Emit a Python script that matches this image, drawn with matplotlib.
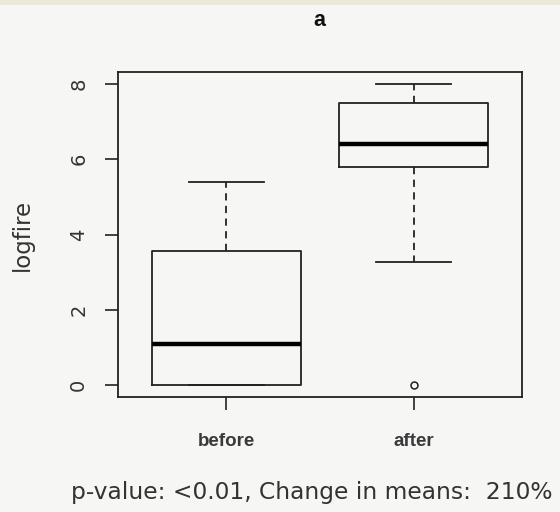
import matplotlib
matplotlib.use("Agg")
import matplotlib.pyplot as plt
from matplotlib.patches import Rectangle

categories = ["before", "after"]
q1 = [0.0, 5.8]
medians = [1.1, 6.4]
q3 = [3.55, 7.5]
whislo = [0.0, 3.28]
whishi = [5.4, 8.0]
fliers = [[], [0.0]]
yticks = [0, 2, 4, 6, 8]

plt.rcParams['font.family'] = ['DejaVu Sans']
W, H = 560, 512
fig = plt.figure(figsize=(W/100, H/100), dpi=100, facecolor="#f6f7f4")
fig.patches.append(Rectangle((0, 1 - 5/H), 1, 5/H, transform=fig.transFigure,
                             facecolor="#ece8d8", edgecolor="none"))

ax = fig.add_axes([118/W, (H-397)/H, 404/W, 325/H])
ax.set_facecolor("#f6f7f4")

stats = []
for i, c in enumerate(categories):
    stats.append(dict(label=c, q1=q1[i], med=medians[i], q3=q3[i],
                      whislo=whislo[i], whishi=whishi[i], fliers=fliers[i]))

lc = "#222222"
ax.bxp(stats, positions=[1, 2], widths=0.8, showfliers=True,
       boxprops=dict(color=lc, linewidth=1.3),
       medianprops=dict(color="black", linewidth=3.2, solid_capstyle="butt"),
       whiskerprops=dict(color=lc, linewidth=1.3, linestyle=(0, (4, 3))),
       capprops=dict(color=lc, linewidth=1.3),
       capwidths=0.4,
       flierprops=dict(marker="o", markersize=5, markerfacecolor="none",
                       markeredgecolor=lc, markeredgewidth=1.1))

ax.set_xlim(0.42, 2.58)
ax.set_ylim(-0.32, 8.32)
ax.set_yticks(yticks)
ax.set_yticklabels([str(t) for t in yticks], rotation=90, va="center",
                   fontsize=14, color="#333333")
ax.set_xticks([1, 2])
ax.set_xticklabels(categories, fontsize=13.5, fontweight="bold", color="#3a3a3a",
                   family="Liberation Sans")
ax.tick_params(axis="y", length=9.5, width=1.2, color=lc, pad=12)
ax.tick_params(axis="x", length=9.5, width=1.2, color=lc, pad=16.5)
for s in ax.spines.values():
    s.set_color(lc)
    s.set_linewidth(1.3)

fig.text(22/W, 1 - 235/H, "logfire", rotation=90, ha="center", va="center",
         fontsize=16.5, color="#333333")
fig.text(319/W, 1 - 21/H, "a", ha="center", va="center", fontsize=15.5,
         fontweight="bold", color="#111111", family="Liberation Sans")
fig.text(312/W, 1 - 493/H, "p-value: <0.01, Change in means:  210%",
         ha="center", va="center", fontsize=16.8, color="#333333")

fig.savefig("out.png", dpi=100, facecolor=fig.get_facecolor())
